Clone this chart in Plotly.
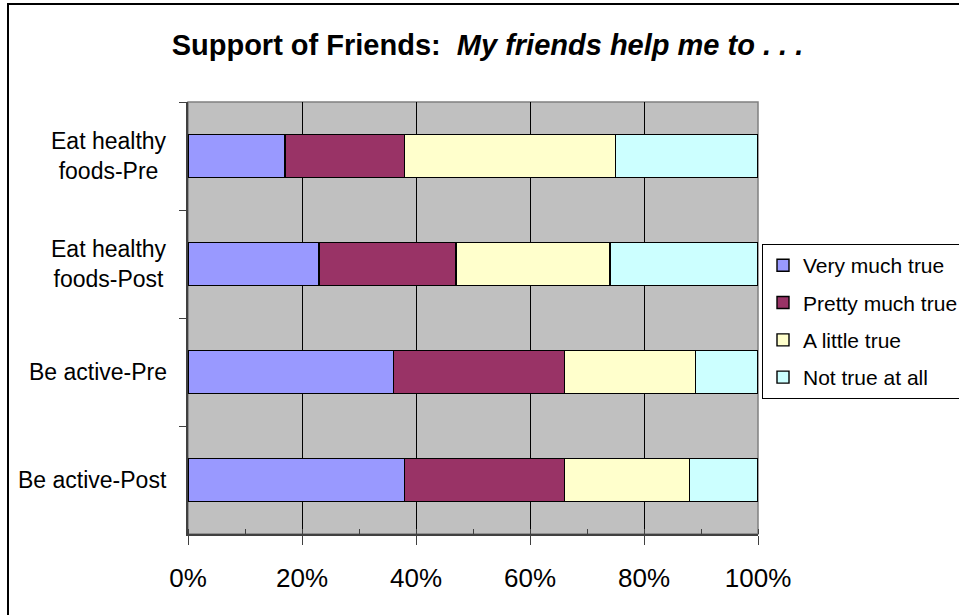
import plotly.graph_objects as go

categories = ["Eat healthy<br>foods-Pre", "Eat healthy<br>foods-Post", "Be active-Pre", "Be active-Post"]
series_names = ["Very much true", "Pretty much true", "A little true", "Not true at all"]
very_much_true = [17, 23, 36, 38]
pretty_much_true = [21, 24, 30, 28]
a_little_true = [37, 27, 23, 22]
not_true_at_all = [25, 26, 11, 12]
colors = ["#9999FF", "#993366", "#FFFFCC", "#CCFFFF"]
x_tick_values = [0, 20, 40, 60, 80, 100]
x_tick_labels = [f"{v}%" for v in x_tick_values]

FONT = "Liberation Sans, Arial, sans-serif"

fig = go.Figure()
for i, (name, vals) in enumerate(zip(series_names,
                                     [very_much_true, pretty_much_true, a_little_true, not_true_at_all])):
    fig.add_trace(go.Bar(
        y=categories, x=vals, name=name, orientation="h",
        marker=dict(color=colors[i], line=dict(color="black", width=1.4)),
        width=0.4, legendgroup=f"g{i}",
    ))

annotations = []
for c in categories:
    annotations.append(dict(
        text=c, x=0, xref="paper", xshift=-19, xanchor="right",
        y=c, yref="y", yanchor="middle", align="center", showarrow=False,
        font=dict(family=FONT, size=23, color="black"),
    ))

fig.update_layout(
    width=959, height=615,
    margin=dict(l=188, r=201, t=102, b=81, autoexpand=False),
    paper_bgcolor="white", plot_bgcolor="#C0C0C0",
    barmode="stack", bargap=0.6,
    font=dict(family=FONT, color="black"),
    title=dict(
        text="<b>Support of Friends:  <i>My friends help me to . . .</i></b>",
        x=0.5083, xref="container", xanchor="center",
        y=1 - 45 / 615, yref="container", yanchor="middle",
        font=dict(family=FONT, size=29, color="black"),
    ),
    xaxis=dict(
        range=[0, 100], tickmode="array", tickvals=x_tick_values, ticktext=x_tick_labels,
        showgrid=True, gridcolor="black", gridwidth=1,
        ticks="outside", ticklen=9, tickcolor="#404040", tickwidth=1,
        minor=dict(dtick=10, ticks="inside", ticklen=5, tickcolor="#404040", showgrid=False),
        showline=True, linecolor="#404040", linewidth=2,
        tickfont=dict(family=FONT, size=26, color="black"),
        ticklabelstandoff=11, zeroline=False, fixedrange=True,
    ),
    yaxis=dict(
        type="category", categoryorder="array", categoryarray=categories,
        autorange="reversed", showticklabels=False,
        ticks="outside", ticklen=7, tickcolor="#404040", tickson="boundaries",
        showgrid=False, showline=True, linecolor="#404040", linewidth=2,
        zeroline=False, fixedrange=True,
    ),
    legend=dict(
        x=(762 - 188) / 570, xanchor="left", y=(534.3 - 244) / 432.6, yanchor="top",
        bgcolor="white", bordercolor="black", borderwidth=1,
        font=dict(family=FONT, size=21, color="black"),
        tracegroupgap=7, traceorder="grouped",
    ),
    annotations=annotations,
    shapes=[
        dict(type="rect", xref="paper", yref="paper", x0=0, x1=1, y0=0, y1=1,
             line=dict(color="#808080", width=1.5), layer="between"),
        dict(type="rect", xref="paper", yref="paper",
             x0=(8 - 188) / 570, x1=1.4, y0=-0.3, y1=(534.3 - 3.5) / 432.6,
             line=dict(color="black", width=2), layer="below"),
    ],
)

fig.write_html("out.html", config={"displayModeBar": False},
               post_script="document.body.style.margin='0';document.body.style.overflow='hidden';")
